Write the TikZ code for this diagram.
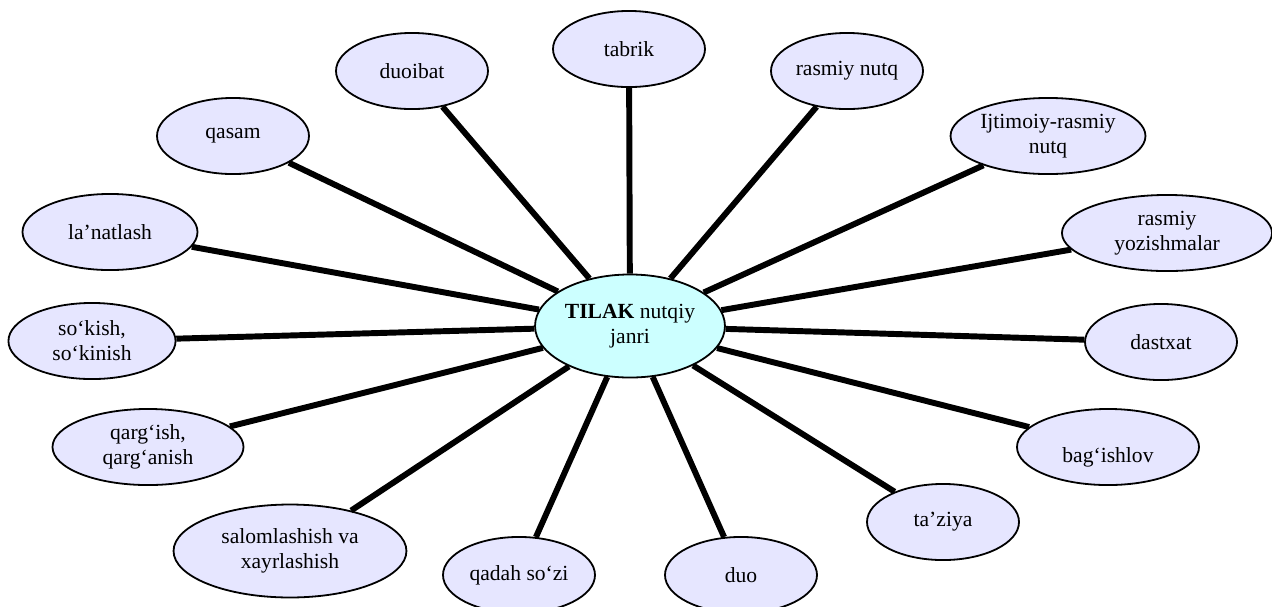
\documentclass[tikz,border=0pt]{standalone}
\usepackage{fontspec}
\setmainfont{Liberation Serif}
\usepackage{xcolor}
\usepackage{tikz}
\usetikzlibrary{shapes.geometric}
\definecolor{genrefill}{RGB}{230,230,255}
\definecolor{hubfill}{RGB}{204,255,255}

\begin{document}
\begin{tikzpicture}[x=0.556pt, y=-0.556pt, font=\fontsize{12}{13.9}\selectfont]
\tikzstyle{hub}=[ellipse, draw=black, line width=1pt, fill=hubfill, align=center, inner sep=0pt, minimum width=105.6pt, minimum height=57.3pt]
\tikzstyle{genre}=[ellipse, draw=black, line width=1pt, fill=genrefill, align=center, inner sep=0pt, minimum width=84.5pt, minimum height=42.3pt]
\tikzstyle{connect}=[line width=3.3pt]
\useasboundingbox (0,0) rectangle (1272,606);
  \node[hub] (hub) at (630,326) {\textbf{TILAK} nutqiy\\janri};
  \node[genre] (tabrik) at (629,49) {tabrik};
  \node[genre] (duoibat) at (412,71) {duoibat};
  \node[genre] (qasam) at (233,136) {qasam};
  \node[genre, minimum width=97.3pt] (lanat) at (110,232) {la’natlash};
  \node[genre, minimum width=92.9pt] (sokish) at (92,341) {so‘kish,\\so‘kinish};
  \node[genre, minimum width=106.2pt] (qargish) at (148,447) {qarg‘ish,\\qarg‘anish};
  \node[genre, minimum width=129.5pt, minimum height=51.7pt] (salom) at (290,551) {salomlashish va\\xayrlashish};
  \node[genre] (qadah) at (519,575) {qadah so‘zi};
  \node[genre] (duo) at (741,575) {duo};
  \node[genre] (taziya) at (943,522) {ta’ziya};
  \node[genre, minimum width=101.2pt, text height=20pt] (bagish) at (1108,447) {bag‘ishlov};
  \node[genre] (dastxat) at (1161,342) {dastxat};
  \node[genre, minimum width=116.8pt] (yozish) at (1167,233) {rasmiy\\yozishmalar};
  \node[genre, minimum width=108.4pt] (ijtimoiy) at (1048,136) {Ijtimoiy-rasmiy\\nutq};
  \node[genre] (rasmiy) at (847,71) {rasmiy nutq};
  \path (hub) edge [connect] (tabrik)
        (hub) edge [connect] (duoibat)
        (hub) edge [connect] (qasam)
        (hub) edge [connect] (lanat)
        (hub) edge [connect] (sokish)
        (hub) edge [connect] (qargish)
        (hub) edge [connect] (salom)
        (hub) edge [connect] (qadah)
        (hub) edge [connect] (duo)
        (hub) edge [connect] (taziya)
        (hub) edge [connect] (bagish)
        (hub) edge [connect] (dastxat)
        (hub) edge [connect] (yozish)
        (hub) edge [connect] (ijtimoiy)
        (hub) edge [connect] (rasmiy);
\end{tikzpicture}
\end{document}
